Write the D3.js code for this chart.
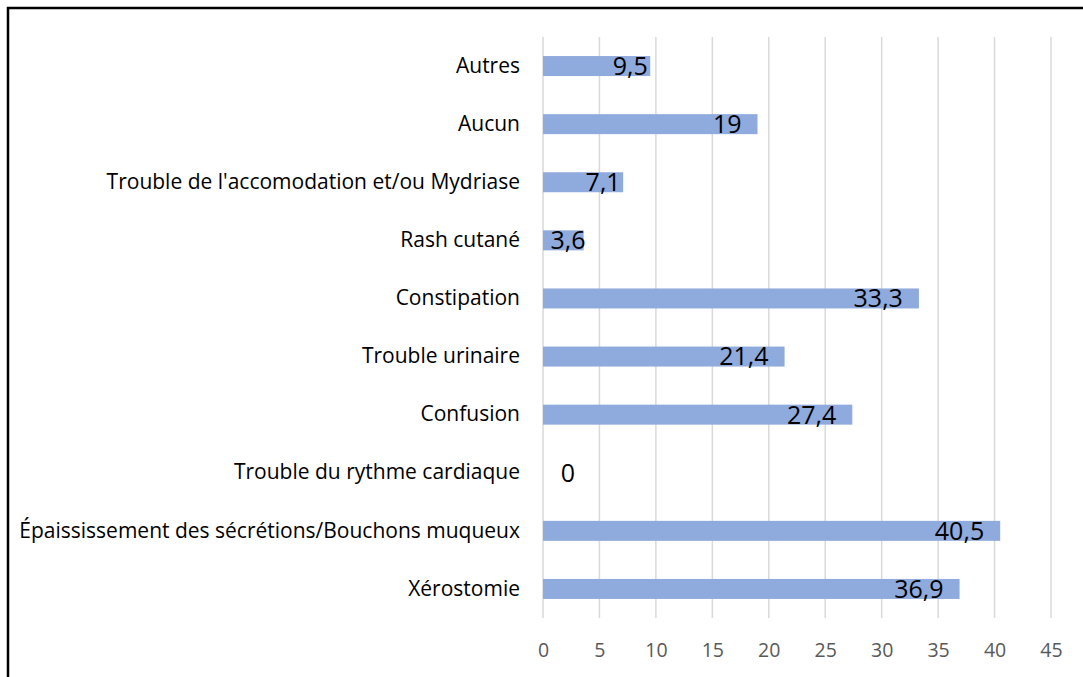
<!DOCTYPE html>
<html><head><meta charset="utf-8">
<script src="https://cdn.jsdelivr.net/npm/d3@7"></script>
<style>body{margin:0;background:#fff}svg{display:block}</style>
</head><body>
<svg id="c" width="1083" height="677"></svg>
<script>
const categories = ["Autres","Aucun","Trouble de l'accomodation et/ou Mydriase","Rash cutané","Constipation","Trouble urinaire","Confusion","Trouble du rythme cardiaque","Épaississement des sécrétions/Bouchons muqueux","Xérostomie"];
const values = [9.5,19,7.1,3.6,33.3,21.4,27.4,0,40.5,36.9];
const xTicks = [0,5,10,15,20,25,30,35,40,45];

const svg = d3.select("#c");
const font = "'Open Sans', sans-serif";
// frame
svg.append("path").attr("d","M8,677 V8 H1083").attr("fill","none").attr("stroke","#000").attr("stroke-width",2.5);

const x = d3.scaleLinear().domain([0,45]).range([543,1051]);
const y = d3.scaleBand().domain(categories).range([37,618]).paddingInner(0.656).paddingOuter(0.328);

// gridlines
svg.append("g").selectAll("line").data(xTicks).join("line")
  .attr("x1",d=>x(d)).attr("x2",d=>x(d)).attr("y1",37).attr("y2",618)
  .attr("stroke","#d9d9d9").attr("stroke-width",1.5);

// x axis labels
const xa = svg.append("g").attr("transform","translate(0,618)").call(d3.axisBottom(x).tickValues(xTicks).tickSize(0).tickPadding(25).tickFormat(d3.format("d")));
xa.select(".domain").remove();
xa.selectAll("text").attr("font-family",font).attr("font-size",19.5).attr("fill","#595959");

// bars
svg.append("g").selectAll("rect").data(values).join("rect")
  .attr("x",x(0)).attr("y",(d,i)=>y(categories[i])).attr("width",d=>x(d)-x(0)).attr("height",y.bandwidth())
  .attr("fill","#8faadc");

// category labels
const ya = svg.append("g").attr("transform",`translate(${x(0)},0)`).call(d3.axisLeft(y).tickSize(0).tickPadding(23));
ya.select(".domain").remove();
ya.selectAll("text").attr("font-family",font).attr("font-size",21).attr("fill","#000");

// data labels
const fmt = v => String(v).replace(".",",");
svg.append("g").selectAll("text").data(values).join("text")
  .attr("x",d=> d>=15 ? x(d)-16 : Math.max(x(d)-20, x(0)+25))
  .attr("y",(d,i)=>y(categories[i])+y.bandwidth()/2)
  .attr("dy","0.357em")
  .attr("text-anchor",d=> d>=15 ? "end" : "middle")
  .attr("font-family",font).attr("font-size",25).attr("fill","#000")
  .text(fmt);
</script>
</body></html>
